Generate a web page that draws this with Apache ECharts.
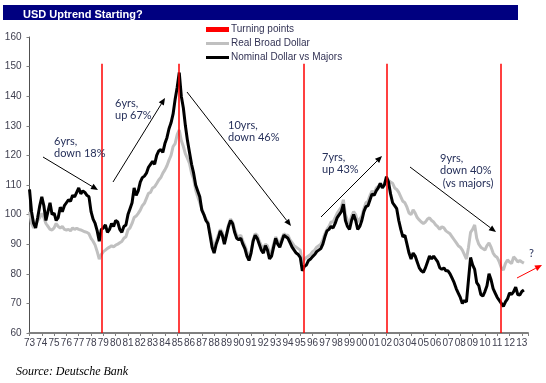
<!DOCTYPE html>
<html>
<head>
<meta charset="utf-8">
<script src="https://cdn.jsdelivr.net/npm/echarts@6/dist/echarts.min.js"></script>
<style>
html,body{margin:0;padding:0;background:#fff;}
#chart{width:546px;height:383px;}
</style>
</head>
<body>
<div id="chart"></div>
<script>
// ---- data (bimonthly readings, starting Jan 1973) ----
const startYear = 1973;
const stepYears = 1 / 6;
const nominalMajors = [
  108.5, 101, 97, 95.5, 99, 103,        // 1973
  106, 103, 98, 101, 104, 100,          // 1974
  100.5, 98, 99, 102.5, 101, 103,       // 1975
  104, 105, 104.5, 106.5, 106, 107.5,   // 1976
  109, 107, 108, 107.5, 106.5, 106,     // 1977
  101, 98.5, 97, 94.5, 91, 95,          // 1978
  95.5, 96.5, 94, 95, 97, 96,           // 1979
  98, 97.5, 95, 94, 96, 96.5,           // 1980
  100, 102, 104, 109, 106.5, 108,       // 1981
  111, 112.5, 113, 114, 116, 117,       // 1982
  118, 117, 120, 121.5, 122, 121,       // 1983
  124, 126, 129, 131, 134, 139,         // 1984
  143, 148, 140, 136, 130, 125,         // 1985
  121, 117, 114, 110, 108, 106,         // 1986
  101.5, 100, 98, 97, 93, 89,           // 1987
  87, 90, 92, 94.5, 93, 90,             // 1988
  93, 96, 98, 97, 94, 92,               // 1989
  91.5, 92, 90, 88.5, 86, 84.5,         // 1990
  87, 91, 93, 92, 90, 88,               // 1991
  87, 89.5, 88, 85, 86, 89,             // 1992
  92, 90, 89, 91, 93, 92.5,             // 1993
  92, 90.5, 89, 88, 87, 86.5,           // 1994
  85.5, 81, 82.5, 83, 84.5, 85,         // 1995
  85.8, 86.5, 87.5, 88, 88.5, 90,       // 1996
  92.5, 94.5, 95, 96, 95.5, 97,         // 1997
  99, 100, 101, 103.5, 98, 96,          // 1998
  95, 98, 100, 98, 95, 96,              // 1999
  98, 101, 102.7, 103, 105, 107,        // 2000
  106.5, 108, 109, 110.6, 109, 110,     // 2001
  112.8, 111, 107, 104, 103, 102,       // 2002
  98, 95, 92.5, 93, 90, 87,             // 2003
  85, 87, 86, 84, 82, 81,               // 2004
  80.5, 82, 84, 86, 85, 86,             // 2005
  85, 84, 82, 81.5, 82, 81,             // 2006
  81, 80, 78.5, 77, 75, 73.5,           // 2007
  72, 70, 71, 70.5, 78, 85.5,           // 2008
  83, 81.5, 77, 76, 73, 72.5,           // 2009
  74, 76, 80, 78, 75, 73.5,             // 2010
  72, 71, 70, 69, 70.5, 71.5,           // 2011
  73.5, 73, 74, 75.5, 73, 72.8,         // 2012
  74, 74.5                              // 2013
];
const realBroad = [
  101, 97, 95.5, 96.5, 98, 99,          // 1973
  100.4, 99, 97, 96, 95, 94.8,          // 1974
  95.5, 97, 96, 95.5, 96, 95,           // 1975
  94.8, 95, 94.5, 95.5, 95, 95.4,       // 1976
  95, 94.8, 94.5, 94.2, 94, 93.5,       // 1977
  92, 91, 89.7, 87.5, 85, 86.5,         // 1978
  87.5, 88, 88.6, 89, 89.5, 89.1,       // 1979
  89.7, 90, 90.5, 90.9, 92, 92.5,       // 1980
  94.8, 95.5, 97, 99, 99.5, 100.4,      // 1981
  101.5, 103, 103.8, 105.5, 107.2, 107.5, // 1982
  109, 109.4, 110.5, 111.7, 112.5, 114, // 1983
  115.1, 116.5, 118.4, 120, 123, 124,   // 1984
  127, 128.6, 125, 123, 120.5, 119,     // 1985
  117.3, 114, 112, 108.3, 106, 104,     // 1986
  102, 100, 98.5, 97.5, 94, 91,         // 1987
  89, 91, 93, 95, 94, 91,               // 1988
  93.5, 96.5, 98.5, 97.5, 95, 93,       // 1989
  92.5, 93, 91, 89.5, 87.5, 86,         // 1990
  87.5, 91.5, 93.5, 93, 91, 89.5,       // 1991
  88.5, 90, 89.5, 87, 87.5, 90,         // 1992
  92.5, 91, 90, 92, 93.5, 93,           // 1993
  93, 91.5, 90.5, 89.5, 89, 88.5,       // 1994
  88, 83.5, 85, 85.5, 86, 86.5,         // 1995
  87.5, 88, 89, 89.5, 90, 91.5,         // 1996
  93.5, 95, 96, 97.5, 97.5, 99,         // 1997
  100.5, 101.5, 102.5, 105, 100, 98,    // 1998
  97, 99.5, 101, 100, 97.5, 98.5,       // 1999
  99.5, 102, 104, 104.5, 106.5, 108,    // 2000
  107, 109, 109.5, 110.5, 109.5, 110.5, // 2001
  112, 111.5, 111, 110.6, 109, 108.5,   // 2002
  107.5, 106, 104.5, 104, 102.5, 100.5, // 2003
  100, 101.6, 100.5, 99, 98.2, 97.5,    // 2004
  97, 97.5, 98.5, 98.9, 98, 97.5,       // 2005
  96.5, 95.9, 95, 95.9, 95.5, 94.5,     // 2006
  94, 93.5, 92.5, 91.5, 90.5, 89.5,     // 2007
  89, 88, 86.5, 85, 89, 94,             // 2008
  95, 96.5, 92, 90, 89, 88.5,           // 2009
  88, 89.5, 90.4, 89, 87, 86,           // 2010
  85.5, 84, 82, 81.3, 83.5, 84.7,       // 2011
  84, 83.5, 85.7, 85, 84, 84.5,         // 2012
  84, 83.6                              // 2013
];
const turningPoints = [1978.87, 1985.15, 1995.26, 2002.04, 2011.3];
const turningLow = 60;
const turningHigh = 151;
const yTicks = { min: 60, max: 160, interval: 10 };
const xRange = { min: 1973, max: 2013.5 };

// ---- build ----
const toPairs = arr => arr.map((v, i) => [startYear + i * stepYears, v]);

const annoColor = '#26305a';
const annoFont = '11px Lato';
function arrow(x1, y1, x2, y2, color) {
  const ang = Math.atan2(y2 - y1, x2 - x1);
  const L = 7, W = 3;
  const bx = x2 - L * Math.cos(ang), by = y2 - L * Math.sin(ang);
  const px = -Math.sin(ang) * W, py = Math.cos(ang) * W;
  return [
    { type: 'line', shape: { x1: x1, y1: y1, x2: bx, y2: by }, style: { stroke: color, lineWidth: 1 }, z: 20 },
    { type: 'polygon', shape: { points: [[x2, y2], [bx + px, by + py], [bx - px, by - py]] }, style: { fill: color }, z: 20 }
  ];
}
function txt(x, y, s, extra) {
  return Object.assign({ type: 'text', x: x, y: y, z: 20,
    style: { text: s, font: annoFont, fill: annoColor, lineHeight: 12.5, verticalAlign: 'top' } }, extra || {});
}

const graphics = [
  { type: 'rect', shape: { x: 3, y: 5, width: 515, height: 15 }, style: { fill: '#000080' }, z: 10 },
  { type: 'text', x: 23, y: 15, z: 11, style: { text: 'USD Uptrend Starting?', font: 'bold 11px "Liberation Sans"', fill: '#ffffff', verticalAlign: 'middle' } },
  { type: 'text', x: 16, y: 372, z: 11, style: { text: 'Source: Deutsche Bank', font: 'italic 12px "Liberation Serif"', fill: '#000000', verticalAlign: 'middle' } },
  txt(54, 135, '6yrs,\ndown 18%'),
  txt(115, 97, '6yrs,\nup 67%'),
  txt(228, 119, '10yrs,\ndown 46%'),
  txt(322, 151, '7yrs,\nup 43%'),
  txt(440, 152, '9yrs,\ndown 40%\n (vs majors)'),
  txt(529, 247, '?'),
  ...arrow(43, 157, 98, 190, '#000000'),
  ...arrow(113, 182, 165, 98, '#000000'),
  ...arrow(187, 92, 291, 226, '#000000'),
  ...arrow(321, 217, 382, 156, '#000000'),
  ...arrow(410, 167, 496, 232, '#000000'),
  ...arrow(517, 278, 542, 265, '#ff0000')
];

const lineIcon = 'path://M0,0H23V3H0Z';

const chart = echarts.init(document.getElementById('chart'), null, { renderer: 'canvas' });
chart.setOption({
  animation: false,
  backgroundColor: '#ffffff',
  textStyle: { fontFamily: '"Liberation Sans", Arial, sans-serif' },
  grid: { left: 29.5, right: 18, top: 37, bottom: 50 },
  legend: {
    orient: 'vertical', left: 206, top: 24, padding: 0,
    itemWidth: 23, itemHeight: 5, itemGap: 3,
    textStyle: { fontSize: 10, color: '#333355', lineHeight: 11, padding: [0, 0, 0, -3] },
    data: [
      { name: 'Turning points', icon: 'rect' },
      { name: 'Real Broad Dollar', icon: lineIcon },
      { name: 'Nominal Dollar vs Majors', icon: lineIcon }
    ]
  },
  xAxis: {
    type: 'value', min: xRange.min, max: xRange.max, interval: 1,
    axisLine: { show: true, lineStyle: { color: '#808080', width: 2 } },
    axisTick: { show: true, length: 3, lineStyle: { color: '#808080' } },
    splitLine: { show: false },
    axisLabel: {
      fontSize: 10, color: '#404050', margin: 5, interval: 0,
      formatter: v => Number.isInteger(v) ? String(v % 100).padStart(2, '0') : ''
    }
  },
  yAxis: {
    type: 'value', min: yTicks.min, max: yTicks.max, interval: yTicks.interval,
    axisLine: { show: true, lineStyle: { color: '#505050', width: 1 } },
    axisTick: { show: true, length: 3, lineStyle: { color: '#808080' } },
    splitLine: { show: false },
    axisLabel: { fontSize: 10, color: '#404050', margin: 8 }
  },
  series: [
    {
      name: 'Turning points', type: 'line', data: [], color: '#ff0000',
      symbol: 'none', lineStyle: { width: 1.5 },
      markLine: {
        silent: true, symbol: 'none', label: { show: false },
        lineStyle: { color: '#ff0000', width: 1.5, type: 'solid' },
        emphasis: { disabled: true },
        data: turningPoints.map(x => [{ coord: [x, turningLow] }, { coord: [x, turningHigh] }])
      },
      z: 1
    },
    {
      name: 'Real Broad Dollar', type: 'line', data: toPairs(realBroad),
      color: '#c0c0c0', symbol: 'none', showSymbol: false,
      lineStyle: { width: 3, color: '#c0c0c0' }, z: 2
    },
    {
      name: 'Nominal Dollar vs Majors', type: 'line', data: toPairs(nominalMajors),
      color: '#000000', symbol: 'none', showSymbol: false,
      lineStyle: { width: 3, color: '#000000' }, z: 3
    }
  ],
  graphic: graphics
});
</script>
</body>
</html>
